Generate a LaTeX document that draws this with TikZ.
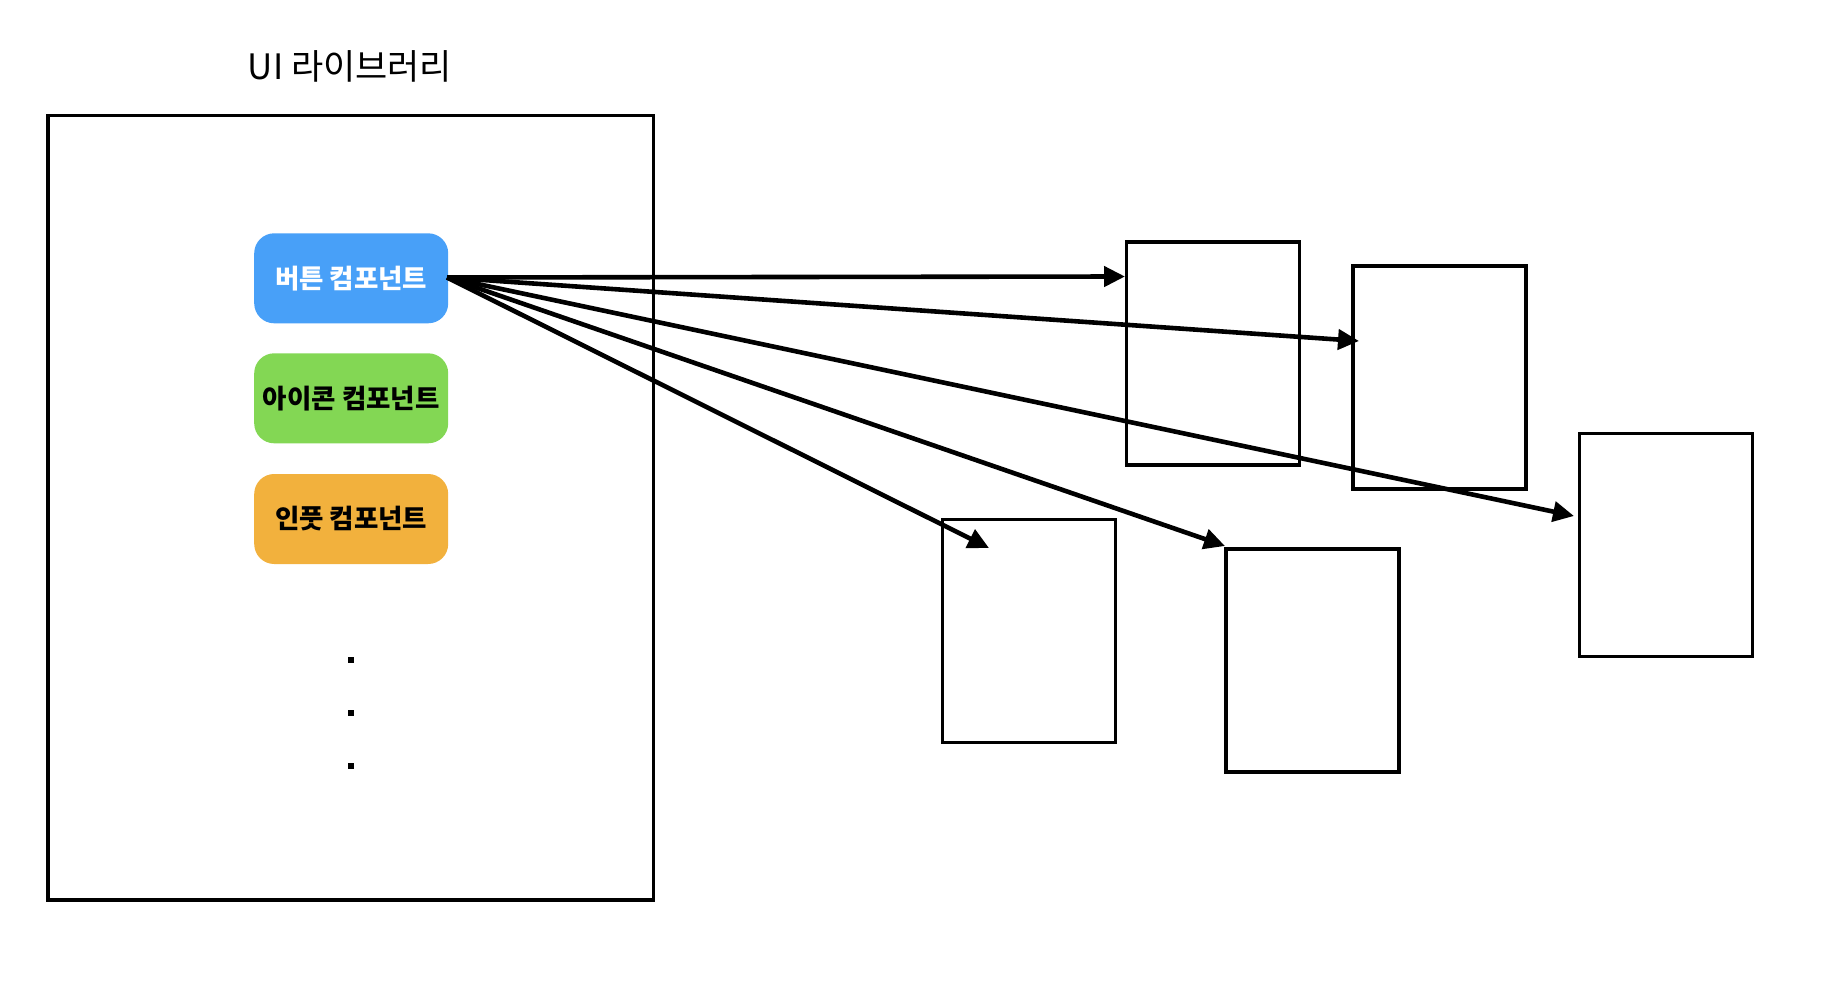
\documentclass[tikz,border=0pt]{standalone}
\usepackage{fontspec}
\setmainfont{Noto Sans CJK KR}
\newfontfamily\kr{Noto Sans CJK KR}
\usetikzlibrary{arrows.meta}
\definecolor{btnblue}{RGB}{72,160,248}
\definecolor{btngreen}{RGB}{131,215,84}
\definecolor{btnorange}{RGB}{242,177,61}
\tikzset{
  frame/.style={draw=black, line width=3.6pt, inner sep=0pt, fill=none},
  target/.style={draw=black, line width=3.6pt, inner sep=0pt, minimum width=173pt, minimum height=223pt},
  comp/.style={rounded corners=20pt, minimum width=194pt, minimum height=90pt, inner sep=0pt, font=\kr\bfseries\fontsize{26.5pt}{30pt}\selectfont},
  dotmark/.style={fill=black, inner sep=0pt, minimum size=5.5pt},
  link/.style={line width=4.6pt, -{Triangle[length=21pt,width=20pt]}}
}
\begin{document}
\begin{tikzpicture}[x=1pt,y=-1pt]
\useasboundingbox (0,0) rectangle (1828,1008);
\node[font=\kr\fontsize{35pt}{40pt}\selectfont] (title) at (350,66) {UI 라이브러리};
\node[frame, minimum width=605.5pt, minimum height=784.5pt] (lib) at (350.6,507.6) {};
\node[comp, fill=btnblue, text=white] (btn) at (351.2,278.3) {버튼 컴포넌트};
\node[comp, fill=btngreen, text=black] (icon) at (351.2,398.3) {아이콘 컴포넌트};
\node[comp, fill=btnorange, text=black] (input) at (351.2,519) {인풋 컴포넌트};
\node[dotmark] (d1) at (351,660) {};
\node[dotmark] (d2) at (351,713) {};
\node[dotmark] (d3) at (351,766) {};
\node[target] (boxA) at (1213,353.5) {};
\node[target] (boxB) at (1439.5,377.5) {};
\node[target] (boxC) at (1666,545) {};
\node[target] (boxD) at (1029,631) {};
\node[target] (boxE) at (1312.5,660.5) {};
\coordinate (s) at (447,277.5);
\coordinate (tA) at (1125,276.5);
\coordinate (tB) at (1359,341);
\coordinate (tC) at (1574,516);
\coordinate (tD) at (989,548);
\coordinate (tE) at (1225,546);
\draw[link] (s) -- (tA);
\draw[link] (s) -- (tB);
\draw[link] (s) -- (tC);
\draw[link] (s) -- (tD);
\draw[link] (s) -- (tE);
\end{tikzpicture}
\end{document}
